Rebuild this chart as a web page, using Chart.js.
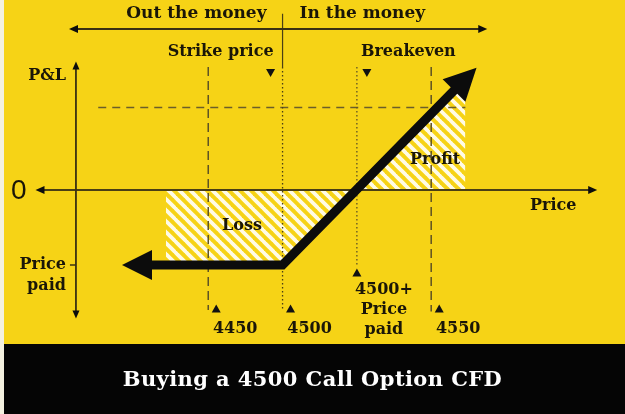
<!DOCTYPE html>
<html>
<head>
<meta charset="utf-8">
<script src="https://cdn.jsdelivr.net/npm/chart.js@4"></script>
<style>
  html, body { margin: 0; padding: 0; background: #fff; }
  #wrap { position: relative; width: 625px; height: 414px; overflow: hidden; }
  #chart { display: block; }
  #title {
    position: absolute; left: 0; top: 344px; width: 625px; height: 70px;
    text-align: center; color: #fff;
    font: bold 21px "DejaVu Serif", serif; line-height: 70px; letter-spacing: 0.4px;
  }
</style>
</head>
<body>
<div id="wrap">
  <canvas id="chart" width="625" height="414"></canvas>
  <div id="title">Buying a 4500 Call Option CFD</div>
</div>
<script>
// ── Daten (x = Preis-Schritte: 0=4450, 1=4500, 2=Breakeven, 3=4550; y = P&L in Prämien) ──

const tickValues = [0, 1, 2, 3];
const tickLabels = ['4450', '4500', '4500+\nPrice\npaid', '4550'];

// Auszahlungslinie (Schaft), Pfeilspitzen separat
const payoffX = [-0.78, 1, 3.34];
const payoffY = [-1, -1, 1.36];
const payoffTipX = [-1.16, 3.61];
const payoffTipY = [-1, 1.63];

// schraffierte Flächen
const lossX = [-0.57, 1, 2];
const lossY = [-1, -1, 0];
const profitX = [2, 3.29, 3.46];
const profitY = [0, 1.29, 1.29];

// Hilfslinien
const targetLevel = 1.1;
const targetFromX = -1.48, targetToX = 3.46;
const guideTop = 1.64;
const dash4450 = [guideTop, -1.6];
const strikeSolid = [2.35, guideTop];
const strikeDotted = [guideTop, -1.6];
const breakevenDotted = [guideTop, -1.0];
const dash4550 = [guideTop, -1.62];

// Achsen
const yAxisX = -1.78, yAxisRange = [1.66, -1.66];
const zeroRange = [-2.27, 5.18];
const moneyLevel = 2.147, moneyRange = [-1.82, 3.7];

// ── Hilfsfunktionen ──────────────────────────────────────────

function seg(xs, ys) {
  return xs.map((x, i) => ({ x, y: ys[i] }));
}

function vline(x, ys) {
  return [{ x, y: ys[0] }, { x, y: ys[1] }];
}

function hline(y, xs) {
  return [{ x: xs[0], y }, { x: xs[1], y }];
}

// Schraffur-Muster (weiße Streifen "\")
function hatchPattern() {
  const s = 11;
  const c = document.createElement('canvas');
  c.width = s; c.height = s;
  const g = c.getContext('2d');
  g.strokeStyle = '#fffbe6';
  g.lineWidth = 3.8;
  for (let k = -1; k <= 1; k++) {
    g.beginPath();
    g.moveTo(k * s - 1, -1);
    g.lineTo(k * s + s + 1, s + 1);
    g.stroke();
  }
  return g.createPattern(c, 'repeat');
}

function arrowHead(ctx, tx, ty, fx, fy, len, half, color) {
  let dx = tx - fx, dy = ty - fy;
  const d = Math.hypot(dx, dy);
  dx /= d; dy /= d;
  const bx = tx - dx * len, by = ty - dy * len;
  ctx.fillStyle = color;
  ctx.beginPath();
  ctx.moveTo(tx, ty);
  ctx.lineTo(bx - dy * half, by + dx * half);
  ctx.lineTo(bx + dy * half, by - dx * half);
  ctx.closePath();
  ctx.fill();
}

function tri(ctx, x, y, up) {
  ctx.fillStyle = '#111';
  ctx.beginPath();
  if (up) {
    ctx.moveTo(x, y - 4); ctx.lineTo(x + 4.5, y + 4); ctx.lineTo(x - 4.5, y + 4);
  } else {
    ctx.moveTo(x, y + 4); ctx.lineTo(x + 4.5, y - 4); ctx.lineTo(x - 4.5, y - 4);
  }
  ctx.closePath();
  ctx.fill();
}

// ── Plugins ──────────────────────────────────────────────────

const bgPlugin = {
  id: 'bg',
  beforeDraw(chart) {
    const ctx = chart.ctx;
    ctx.save();
    ctx.fillStyle = '#f6d316';
    ctx.fillRect(0, 0, 625, 344);
    ctx.fillStyle = '#050505';
    ctx.fillRect(0, 344, 625, 70);
    ctx.fillStyle = '#f4f1e0';
    ctx.fillRect(0, 0, 4, 414);
    ctx.restore();
  }
};

const INK = '#0c0c0c';
const TXT = '#1a1608';
const AXIS = '#3a3012';
const SERIF = '"DejaVu Serif", serif';

const decoPlugin = {
  id: 'deco',
  afterDatasetsDraw(chart) {
    const ctx = chart.ctx;
    const xs = chart.scales.x, ys = chart.scales.y;
    const px = v => xs.getPixelForValue(v);
    const py = v => ys.getPixelForValue(v);
    ctx.save();

    // Pfeilspitzen der Auszahlungslinie
    arrowHead(ctx, px(payoffTipX[0]), py(payoffTipY[0]), px(payoffX[0]), py(payoffY[0]), 30, 15, INK);
    arrowHead(ctx, px(payoffTipX[1]), py(payoffTipY[1]), px(payoffX[2]), py(payoffY[2]), 32, 16, INK);

    // kleine Achsenpfeile
    arrowHead(ctx, px(yAxisX), py(yAxisRange[0]) - 4, px(yAxisX), py(0), 8, 3.5, INK);
    arrowHead(ctx, px(yAxisX), py(yAxisRange[1]) + 4, px(yAxisX), py(0), 8, 3.5, INK);
    arrowHead(ctx, px(zeroRange[0]) - 4, py(0), px(0), py(0), 9, 4, INK);
    arrowHead(ctx, px(zeroRange[1]) + 4, py(0), px(0), py(0), 9, 4, INK);
    arrowHead(ctx, px(moneyRange[0]) - 4, py(moneyLevel), px(0), py(moneyLevel), 9, 4, INK);
    arrowHead(ctx, px(moneyRange[1]) + 4, py(moneyLevel), px(0), py(moneyLevel), 9, 4, INK);

    // Strich für "Price paid" auf der y-Achse
    ctx.strokeStyle = AXIS;
    ctx.lineWidth = 1.5;
    ctx.beginPath();
    ctx.moveTo(px(yAxisX) - 6, py(-1));
    ctx.lineTo(px(yAxisX), py(-1));
    ctx.stroke();

    // Dreiecke oben (Strike / Breakeven)
    tri(ctx, px(1) - 12, py(guideTop) + 6, false);
    tri(ctx, px(2) + 10, py(guideTop) + 6, false);

    // Dreiecke unten + Beschriftung
    ctx.font = 'bold 16px ' + SERIF;
    ctx.textBaseline = 'middle';
    ctx.textAlign = 'center';
    tickValues.forEach((v, i) => {
      const lines = tickLabels[i].split('\n');
      if (lines.length > 1) {
        tri(ctx, px(v), py(-1.1), true);
        ctx.fillStyle = TXT;
        lines.forEach((l, j) => ctx.fillText(l, px(v) + 27, py(-1.33) + j * 20));
      } else {
        tri(ctx, px(v) + 8, py(-1.58), true);
        ctx.fillStyle = TXT;
        ctx.fillText(lines[0], px(v) + 27, py(-1.85));
      }
    });

    // Texte
    ctx.fillStyle = TXT;
    ctx.font = 'bold 17px ' + SERIF;
    ctx.textAlign = 'right';
    ctx.fillText('Out the money', px(1) - 16, 14);
    ctx.textAlign = 'left';
    ctx.fillText('In the money', px(1) + 17, 14);

    ctx.font = 'bold 16px ' + SERIF;
    ctx.textAlign = 'right';
    ctx.fillText('Strike price', px(1) - 9, 52);
    ctx.textAlign = 'left';
    ctx.fillText('Breakeven', px(2) + 4, 52);
    ctx.textAlign = 'right';
    ctx.fillText('P&L', px(yAxisX) - 10, 76);
    ctx.fillText('Price', px(yAxisX) - 10, py(-1));
    ctx.fillText('paid', px(yAxisX) - 10, py(-1) + 21);
    ctx.textAlign = 'left';
    ctx.fillText('Price', 530, py(0) + 16);
    ctx.fillText('Loss', 222, 226);
    ctx.fillText('Profit', 410, 160);

    ctx.font = '28px "Liberation Sans", Arial, sans-serif';
    ctx.textAlign = 'left';
    ctx.fillText('0', 11, py(0) + 1);

    ctx.restore();
  }
};

// ── Chart ────────────────────────────────────────────────────

const hatch = hatchPattern();

function guide(data, dash, width, color, order) {
  return {
    data, borderColor: color, borderWidth: width, borderDash: dash,
    pointRadius: 0, fill: false, tension: 0, order
  };
}

new Chart(document.getElementById('chart'), {
  type: 'line',
  data: {
    datasets: [
      // Auszahlung
      { data: seg(payoffX, payoffY), borderColor: INK, borderWidth: 9,
        borderJoinStyle: 'miter', borderCapStyle: 'butt',
        pointRadius: 0, fill: false, tension: 0, order: 0 },
      // Achsen
      guide(vline(yAxisX, yAxisRange), [], 1.8, AXIS, 1),
      guide(hline(0, zeroRange), [], 2, '#4a3f14', 1),
      guide(hline(moneyLevel, moneyRange), [], 1.8, AXIS, 1),
      // Hilfslinien
      guide(vline(0, dash4450), [9, 5], 1.5, '#5e5224', 2),
      guide(vline(1, strikeSolid), [], 1.2, '#4a3f14', 2),
      guide(vline(1, strikeDotted), [1.5, 2.5], 1.3, '#4a3f14', 2),
      guide(vline(2, breakevenDotted), [1.5, 2.5], 1.3, '#5e5224', 2),
      guide(vline(3, dash4550), [9, 5], 1.5, '#5e5224', 2),
      guide(hline(targetLevel, [targetFromX, targetToX]), [8, 6], 1.6, '#6b5e2a', 2),
      // Schraffuren
      { data: seg(lossX, lossY), borderWidth: 0, borderColor: 'rgba(0,0,0,0)',
        backgroundColor: hatch, fill: 'origin', pointRadius: 0, tension: 0, order: 5 },
      { data: seg(profitX, profitY), borderWidth: 0, borderColor: 'rgba(0,0,0,0)',
        backgroundColor: hatch, fill: 'origin', pointRadius: 0, tension: 0, order: 5 }
    ]
  },
  options: {
    responsive: false,
    animation: false,
    layout: { padding: { left: 15, right: 8, top: 10, bottom: 74 } },
    plugins: { legend: { display: false }, tooltip: { enabled: false } },
    scales: {
      x: { type: 'linear', min: -2.6, max: 5.5, display: false },
      y: { type: 'linear', min: -2, max: 2.4, display: false }
    }
  },
  plugins: [bgPlugin, decoPlugin]
});
</script>
</body>
</html>
